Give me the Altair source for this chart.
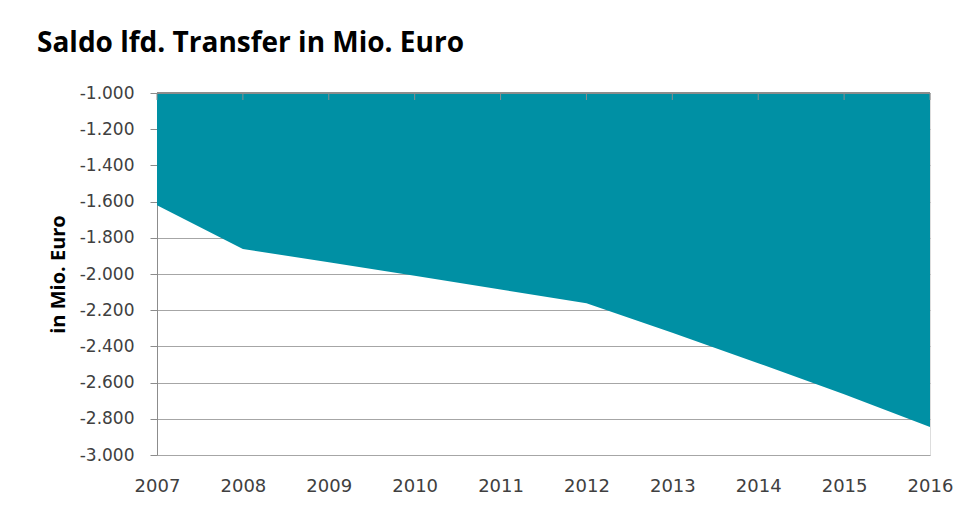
import altair as alt
import pandas as pd

years = [2007, 2008, 2009, 2010, 2011, 2012, 2013, 2014, 2015, 2016]
saldo = [-1620, -1862, -1935, -2010, -2086, -2162, -2325, -2493, -2664, -2845]
y_ticks = [-1000, -1200, -1400, -1600, -1800, -2000, -2200, -2400, -2600, -2800, -3000]

df = pd.DataFrame({"Jahr": years, "Saldo": saldo})

TEAL = "#0090a4"
GRID = "#a6a6a6"
AXIS = "#8c8c8c"
TXT = "#404040"

label_expr = "(datum.value < 0 ? '-' : '') + replace(format(abs(datum.value), ',d'), ',', '.')"

x_scale = alt.Scale(domain=[2007, 2016], nice=False, zero=False)
y_scale = alt.Scale(domain=[-3000, -1000], nice=False, zero=False)

base = alt.Chart(df)

area = base.mark_area(color=TEAL, opacity=1).encode(
    x=alt.X("Jahr:Q", scale=x_scale,
            axis=alt.Axis(values=years, format="d", title=None, grid=False,
                          domain=False, ticks=False, labelPadding=22,
                          labelFont="DejaVu Sans", labelFontSize=18,
                          labelColor=TXT, labelFlush=False)),
    y=alt.Y("Saldo:Q", scale=y_scale,
            axis=alt.Axis(values=y_ticks, labelExpr=label_expr,
                          title="in Mio. Euro", titleFont="Open Sans",
                          titleFontWeight="bold", titleFontSize=20,
                          titleColor="#000000", titlePadding=11,
                          labelFont="DejaVu Sans", labelFontSize=17,
                          labelColor=TXT, labelPadding=16,
                          tickSize=7, tickColor=AXIS, domainColor=AXIS,
                          grid=True, gridColor=GRID, gridWidth=1)),
    y2=alt.Y2(datum=-1000),
)

top_ticks = base.mark_rule(color=AXIS, strokeWidth=1).encode(
    x=alt.X("Jahr:Q", scale=x_scale),
    y=alt.value(0),
    y2=alt.value(7),
)

top_line = base.mark_rule(color=AXIS, strokeWidth=1).encode(
    x=alt.datum(2007, scale=x_scale),
    x2=alt.datum(2016),
    y=alt.value(0),
)

chart = alt.layer(area, top_ticks, top_line).properties(
    width=773,
    height=362,
    title=alt.TitleParams(
        "Saldo lfd. Transfer in Mio. Euro",
        font="Open Sans", fontSize=28, fontWeight="bold", color="#000000",
        anchor="start", frame="group", dx=-120, offset=26,
    ),
    autosize=alt.AutoSizeParams(type="none"),
    padding={"left": 149, "top": 85, "right": 31, "bottom": 45},
).configure_view(stroke=None).configure(background="white")

chart.save("out.html", embed_options={"renderer": "svg", "actions": False})
